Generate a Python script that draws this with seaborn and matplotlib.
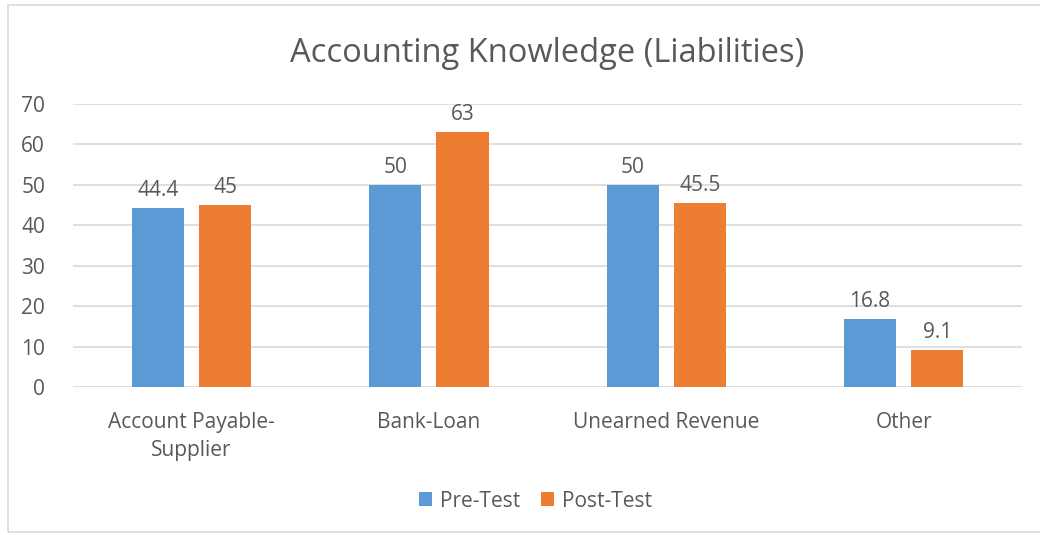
import pandas as pd
import matplotlib.pyplot as plt
import seaborn as sns
from matplotlib.patches import Rectangle

categories = ["Account Payable-\nSupplier", "Bank-Loan", "Unearned Revenue", "Other"]
series = ["Pre-Test", "Post-Test"]
pre_test = [44.4, 50, 50, 16.8]
post_test = [45, 63, 45.5, 9.1]
colors = ["#5b9bd5", "#ed7d31"]

df = pd.DataFrame({
    "category": categories * 2,
    "series": [series[0]] * 4 + [series[1]] * 4,
    "value": pre_test + post_test,
})

sns.set_theme(style="white")
plt.rcParams["font.family"] = ["Open Sans", "DejaVu Sans"]
text_color = "#595959"

fig = plt.figure(figsize=(10.4, 5.35), dpi=100)
ax = fig.add_axes([0.070, 0.2766, 0.913, 0.529])

sns.barplot(data=df, x="category", y="value", hue="series", palette=colors,
            width=0.565, gap=0.22, ax=ax, legend=True, saturation=1, linewidth=0)

for cont in ax.containers:
    labels = [f"{v:g}" for v in cont.datavalues]
    ax.bar_label(cont, labels=labels, padding=5, fontsize=15, color=text_color)

ax.set_ylim(0, 70)
ax.set_xlim(-0.5, 3.5)
ax.set_yticks(range(0, 71, 10))
ax.yaxis.grid(True, color="#d9d9d9", linewidth=1.2)
ax.set_axisbelow(True)
for s in ax.spines.values():
    s.set_visible(False)
ax.set_xlabel("")
ax.set_ylabel("")
ax.tick_params(axis="both", labelsize=15, colors=text_color, length=0)
ax.tick_params(axis="y", pad=20)
ax.tick_params(axis="x", pad=18)
for t in ax.get_xticklabels():
    t.set_linespacing(1.45)

ax.set_title("Accounting Knowledge (Liabilities)", fontsize=23.5, color=text_color, pad=30)

ax.legend(loc="upper center", bbox_to_anchor=(0.487, -0.3), ncol=2, frameon=False,
          fontsize=15, labelcolor=text_color, handlelength=0.65, handleheight=0.65,
          columnspacing=1.0, handletextpad=0.35)

fig.patches.append(Rectangle((8 / 1040, 0.005), 1.0, 0.985, transform=fig.transFigure,
                             fill=False, edgecolor="#d9d9d9", linewidth=1.2))

fig.savefig("out.png", dpi=100)
